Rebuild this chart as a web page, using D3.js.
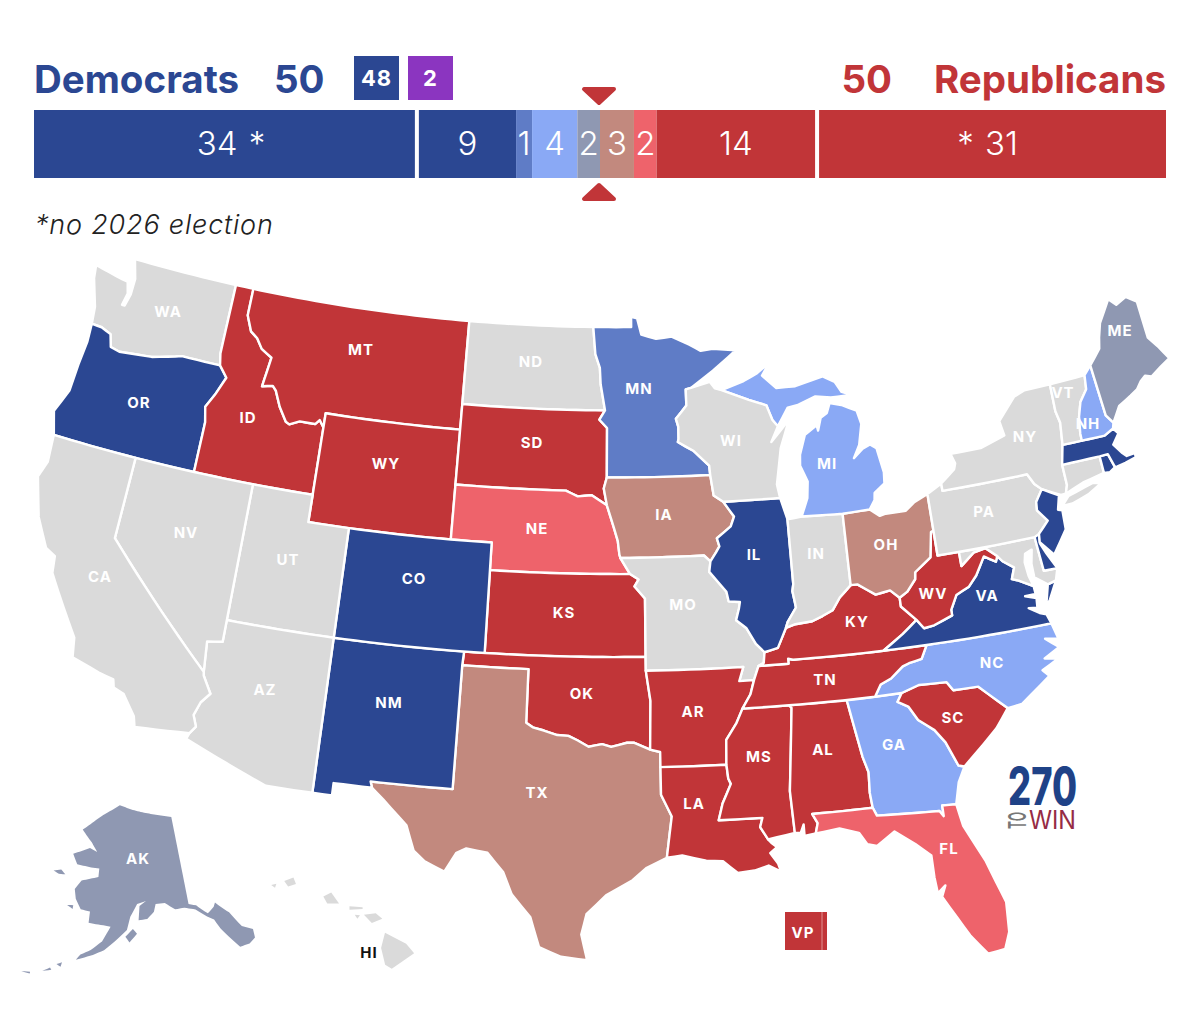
<!DOCTYPE html>
<html>
<head>
<meta charset="utf-8">
<script src="https://cdn.jsdelivr.net/npm/d3@7"></script>
<style>
  body { margin: 0; background: #fff; }
  svg { display: block; font-family: Inter, Roboto, sans-serif; }
  .state { stroke: #fff; stroke-width: 2.4; stroke-linejoin: round; }
  .state-label { font-size: 15px; font-weight: 700; letter-spacing: 1px; fill: #fff; text-anchor: middle; dominant-baseline: central; }
</style>
</head>
<body>
<svg id="chart" width="1200" height="1021"></svg>
<script>
// seats per forecast column, left to right
const seatCategories = ['safeD', 'safeD26', 'likelyD', 'leanD', 'tossup', 'leanR', 'likelyR', 'safeR26', 'safeR'];
const seatValues = [34, 9, 1, 4, 2, 3, 2, 14, 31];
const seatLabels = ['34 *', '9', '1', '4', '2', '3', '2', '14', '* 31'];
const seatColors = ['#2b4792', '#2b4792', '#5f7cc6', '#8aa9f5', '#8f98b2', '#c2897e', '#ee636b', '#c13538', '#c13538'];
const headerCounts = { dem: 50, rep: 50, demCaucus: 48, independents: 2 };

// 2026 rating for each state that votes
const ratingStates = {
  safeD26: ['OR', 'CO', 'NM', 'IL', 'VA', 'NJ', 'MA', 'RI', 'DE'],
  likelyD: ['MN'],
  leanD: ['NH', 'MI', 'GA', 'NC'],
  tossup: ['ME', 'AK'],
  leanR: ['TX', 'OH', 'IA'],
  likelyR: ['NE', 'FL'],
  safeR26: ['MT', 'ID', 'WY', 'SD', 'KS', 'OK', 'AR', 'LA', 'MS', 'AL', 'TN', 'KY', 'WV', 'SC']
};

// shared borders, lon/lat
const stCroix = [[-92.01,46.71],[-92.29,46.66],[-92.29,46.07],[-92.86,45.6],[-92.75,45.3],[-92.76,44.86],[-92.8,44.75]];
const missUpperA = [[-92.8,44.75],[-92.0,44.4],[-91.25,43.85],[-91.22,43.5]];
const missUpperB = [[-91.22,43.5],[-91.1,42.75],[-90.64,42.51]];
const missUpperC = [[-90.64,42.51],[-90.15,41.95],[-90.34,41.6],[-91.05,41.2],[-90.95,40.9],[-91.12,40.7],[-91.42,40.38]];
const missMid = [[-91.42,40.38],[-91.5,40.0],[-90.73,39.25],[-90.65,38.9],[-90.12,38.85],[-90.18,38.63],[-90.35,38.2],[-89.9,37.9],[-89.5,37.3],[-89.13,36.98]];
const missBoot = [[-89.13,36.98],[-89.2,36.6],[-89.45,36.5]];
const missBoot2 = [[-89.45,36.5],[-89.7,36.0]];
const missArk = [[-89.7,36.0],[-89.9,35.5],[-90.3,35.0]];
const missArk2 = [[-90.3,35.0],[-90.6,34.5],[-91.1,33.9],[-91.15,33.0]];
const missLa = [[-91.15,33.0],[-91.1,32.5],[-91.0,32.3],[-91.4,31.6],[-91.6,31.0]];
const ohioKyIl = [[-89.13,36.98],[-88.5,37.1],[-88.05,37.8]];
const ohioKyIn = [[-88.05,37.8],[-87.6,37.9],[-86.8,37.95],[-86.3,38.1],[-85.8,38.27],[-85.4,38.7],[-84.82,39.1]];
const ohioKyOh = [[-84.82,39.1],[-84.5,39.1],[-83.7,38.65],[-83.0,38.73],[-82.6,38.42]];
const ohioWv = [[-82.6,38.42],[-82.2,38.6],[-81.75,39.0],[-81.7,39.25],[-80.87,39.7],[-80.65,40.6]];
const wabash = [[-87.53,39.35],[-87.6,39.1],[-87.5,38.5],[-87.95,38.0],[-88.05,37.8]];
const kyWv = [[-82.6,38.42],[-82.6,38.1],[-81.97,37.54]];
const kyVa = [[-81.97,37.54],[-82.7,37.1],[-83.68,36.6]];
const wvVa = [[-81.97,37.54],[-81.68,37.2],[-81.2,37.25],[-80.3,37.5],[-80.3,37.7],[-79.95,38.2],[-79.3,38.42],[-78.87,38.77],[-78.35,39.4],[-77.83,39.13],[-77.72,39.32]];
const wvMd = [[-77.72,39.32],[-78.2,39.68],[-78.8,39.6],[-79.48,39.2],[-79.48,39.72]];
const potomac = [[-77.72,39.32],[-77.52,39.1],[-77.04,38.8],[-77.25,38.4],[-76.95,38.3],[-76.32,38.0]];
const tnNc = [[-84.32,34.99],[-84.0,35.4],[-83.5,35.57],[-82.9,35.95],[-82.6,36.03],[-82.0,36.12],[-81.68,36.59]];
const ncSc = [[-78.55,33.85],[-79.67,34.8],[-80.8,34.82],[-81.04,35.15],[-82.3,35.2],[-83.11,35.0]];
const gaSc = [[-83.11,35.0],[-83.35,34.7],[-82.9,34.48],[-82.55,33.95],[-81.9,33.5],[-81.5,33.0],[-81.1,32.1],[-80.85,32.03]];
const gaAl = [[-85.6,34.98],[-85.18,32.87],[-85.0,32.3],[-85.05,31.55],[-85.0,31.0]];
const gaFl = [[-85.0,31.0],[-84.86,30.7],[-82.2,30.57],[-82.05,30.36],[-82.05,30.75],[-81.45,30.72]];
const pearl = [[-91.6,31.0],[-89.73,31.0],[-89.85,30.67],[-89.55,30.2]];
const msAl = [[-88.2,35.0],[-88.1,34.9],[-88.47,31.9],[-88.4,30.37]];
const redRiver = [[-100,34.56],[-99.7,34.4],[-99.2,34.3],[-98.6,34.15],[-98.1,34.13],[-97.7,33.98],[-97.2,33.75],[-96.6,33.85],[-96.2,33.75],[-95.5,33.9],[-95.2,33.9],[-94.48,33.64]];
const sabine = [[-94.04,33.0],[-94.04,32.0],[-93.6,31.2],[-93.72,30.5],[-93.85,29.7]];
const missouriNeIa = [[-96.44,42.49],[-96.1,41.7],[-95.9,41.2],[-95.82,40.7],[-95.77,40.58]];
const missouriNeMo = [[-95.77,40.58],[-95.31,40.0]];
const missouriKs = [[-95.31,40.0],[-94.9,39.8],[-95.1,39.55],[-94.61,39.11]];
const neSd = [[-104.05,43.0],[-98.5,43.0],[-97.9,42.8],[-97.2,42.85],[-96.44,42.49]];
const mnSd = [[-96.56,45.94],[-96.85,45.6],[-96.45,45.3],[-96.45,43.5]];
const mnNd = [[-97.23,49],[-97.1,48.0],[-96.85,47.5],[-96.8,46.9],[-96.56,45.94]];
const idMt = [[-116.05,49],[-116.05,48.0],[-115.7,47.45],[-115.3,47.25],[-114.95,46.9],[-114.35,46.65],[-114.45,46.1],[-114.55,45.56],[-114.0,45.65],[-113.8,45.5],[-113.45,44.95],[-113.0,44.45],[-112.8,44.38],[-112.3,44.55],[-111.5,44.55],[-111.3,44.72],[-111.05,44.48]];
const orId = [[-116.92,45.99],[-116.46,45.6],[-116.85,44.9],[-117.2,44.4],[-117.03,43.85],[-117.03,42.0]];
const columbia = [[-124.0,46.27],[-123.45,46.25],[-122.9,46.1],[-122.7,45.65],[-122.2,45.57],[-121.2,45.65],[-120.5,45.7],[-119.3,45.93],[-118.98,46.0],[-116.92,45.99]];
const coloradoAz = [[-114.75,36.1],[-114.63,35.0]];
const coloradoCa = [[-114.63,35.0],[-114.6,34.87],[-114.15,34.27],[-114.5,33.9],[-114.7,33.4],[-114.5,33.0],[-114.72,32.72]];
const delawareNy = [[-75.5,42.0],[-75.25,41.6],[-74.95,41.36]];
const delawareNj = [[-74.95,41.36],[-75.35,40.95],[-75.4,40.65],[-75.0,40.2],[-75.55,39.8]];
const ctNy = [[-73.7,42.05],[-73.7,41.3],[-73.85,41.0]];
const nhVt = [[-71.5,45.01],[-71.6,44.5],[-72.05,44.1],[-72.3,43.6],[-72.45,43.0],[-72.46,42.73]];
const rev = a => a.slice().reverse();

// state outlines, one list of rings per state
const stateShapes = {
  WA: [[[-124.7,48.38],[-123.1,48.15],[-122.8,48.12],[-122.62,47.7],[-122.75,47.25],[-122.6,47.25],[-122.45,47.7],[-122.45,48.3],[-122.76,49.0],[-117.03,49.0],[-117.04,46.42],...rev(columbia),[-124.1,46.9],[-124.6,47.9]]],
  OR: [[...columbia,...orId,[-124.2,42.0],[-124.55,42.84],[-124.1,43.7],[-124.05,44.7],[-123.95,45.6]]],
  ID: [[[-117.03,49],...idMt,[-111.05,42],[-117.03,42],...rev(orId),[-117.04,46.42]]],
  MT: [[...idMt,[-111.05,45],[-104.05,45],[-104.05,49]]],
  WY: [[[-111.05,45],[-104.05,45],[-104.05,41],[-111.05,41]]],
  ND: [[[-104.05,49],...mnNd,[-104.05,45.94]]],
  SD: [[[-104.05,45.94],...mnSd,[-96.6,43.1],[-96.44,42.49],...rev(neSd)]],
  NE: [[...neSd,...missouriNeIa,...missouriNeMo,[-102.05,40],[-102.05,41],[-104.05,41]]],
  KS: [[[-102.05,40],...missouriNeMo.slice(1),...missouriKs.slice(1),[-94.62,37],[-102.05,37]]],
  OK: [[[-103,37],[-94.62,37],[-94.62,36.5],[-94.43,35.4],...rev(redRiver),[-100,36.5],[-103.04,36.5]]],
  TX: [[[-103.04,36.5],[-100,36.5],...redRiver,[-94.04,33.55],...sabine,[-94.7,29.35],[-95.3,28.9],[-96.4,28.35],[-97.2,27.65],[-97.4,26.9],[-97.15,25.96],[-98.2,26.07],[-99.1,26.4],[-99.5,27.5],[-100.3,28.3],[-100.7,29.1],[-101.4,29.77],[-102.3,29.88],[-102.7,29.7],[-103.15,28.98],[-104,29.3],[-104.5,29.65],[-104.9,30.55],[-106,31.4],[-106.53,31.78],[-106.62,32],[-103.06,32]]],
  NM: [[[-109.05,37],[-103,37],[-103.04,36.5],[-103.06,32],[-106.62,32],[-106.53,31.78],[-108.2,31.78],[-108.2,31.33],[-109.05,31.33]]],
  CO: [[[-109.05,41],[-102.05,41],[-102.05,37],[-109.05,37]]],
  UT: [[[-114.05,42],[-111.05,42],[-111.05,41],[-109.05,41],[-109.05,37],[-114.05,37]]],
  AZ: [[[-114.05,37],[-109.05,37],[-109.05,31.33],[-111.07,31.33],[-114.81,32.5],...rev(coloradoCa),...rev(coloradoAz),[-114.05,36.2]]],
  NV: [[[-120,42],[-114.05,42],[-114.05,36.2],...coloradoAz,[-120,39]]],
  CA: [[[-124.2,42],[-120,42],[-120,39],...coloradoCa,[-117.12,32.53],[-117.25,32.9],[-117.9,33.6],[-118.4,33.75],[-118.5,34.03],[-119.2,34.15],[-120.5,34.45],[-120.65,35.15],[-121.9,36.6],[-122.4,37.2],[-122.5,37.8],[-123,38],[-123.75,39],[-124.35,40.4],[-124.1,41]]],
  MN: [[[-97.23,49],[-95.15,49],[-95.15,49.38],[-94.82,49.32],[-94.6,48.72],[-93.8,48.55],[-92.95,48.62],[-92,48.3],[-91.4,48.05],[-90.75,48.1],[-89.5,48],[-90.8,47.3],...stCroix,...missUpperA,...rev(mnSd),...rev(mnNd).slice(1)]],
  IA: [[[-96.45,43.5],...missUpperB,...missUpperC,[-91.72,40.6],...rev(missouriNeIa),[-96.6,43.1]]],
  MO: [[[-95.77,40.58],[-91.72,40.6],...missMid,...missBoot,...missBoot2,[-90.37,36],[-90.15,36.5],[-94.62,36.5],[-94.62,37],...rev(missouriKs),[-95.31,40]]],
  AR: [[[-94.62,36.5],[-90.15,36.5],[-90.37,36],...missArk,...missArk2,[-94.04,33],[-94.04,33.55],[-94.48,33.64],[-94.43,35.4]]],
  LA: [[[-94.04,33],...missLa,...pearl.slice(1),[-89.4,30.05],[-89.2,29.9],[-89.5,29.7],[-89.2,29.3],[-89.1,29],[-89.6,29.25],[-90.2,29.1],[-90.9,29.05],[-91.5,29.5],[-92.2,29.55],[-93.2,29.77],...rev(sabine)]],
  MS: [[[-90.3,35],...msAl,[-89.55,30.2],...rev(pearl),...rev(missLa).slice(1),...rev(missArk2).slice(1)]],
  AL: [[...msAl.slice(0,1),[-85.6,34.98],...gaAl.slice(1),[-87.6,31],[-87.4,30.65],[-87.52,30.28],[-88,30.23],[-88,30.65],[-88.15,30.35],...rev(msAl)]],
  GA: [[...gaAl,...gaFl.slice(1),[-81.2,31.5],...rev(gaSc)]],
  FL: [[[-87.6,31],...gaFl,[-81.3,29.9],[-80.6,28.5],[-80.05,26.9],[-80.13,25.8],[-80.4,25.2],[-81.1,25.13],[-81.7,25.9],[-82.1,26.6],[-82.6,27.45],[-82.4,27.85],[-82.75,27.6],[-82.8,28.2],[-82.8,29],[-83.4,29.5],[-84.2,30.05],[-85,29.6],[-85.4,29.7],[-85.7,30.15],[-86.5,30.38],[-87.52,30.28],[-87.4,30.65]],
       [[-81.8,24.55],[-81.3,24.65],[-80.6,24.95],[-81.3,24.72]]],
  SC: [[...rev(ncSc),[-79.2,33.2],[-79.9,32.7],...rev(gaSc)]],
  NC: [[...tnNc,[-75.87,36.55],[-75.7,35.95],[-76.3,36.05],[-75.75,35.65],[-76.5,35.35],[-75.9,35.25],[-76.7,34.95],[-76.45,34.7],[-77.9,33.9],...ncSc]],
  TN: [[...rev(missArk),...missBoot2.slice(0,1),[-88.07,36.5],[-88.07,36.68],[-87.85,36.63],[-83.68,36.6],...rev(tnNc),[-88.2,35]]],
  KY: [[...ohioKyIl,...ohioKyIn.slice(1),...ohioKyOh.slice(1),...kyWv.slice(1),...kyVa.slice(1),[-87.85,36.63],[-88.07,36.68],[-88.07,36.5],...rev(missBoot)]],
  VA: [[...kyVa,[-81.68,36.59],[-75.87,36.55],[-76,36.9],[-76.3,37],[-76.75,37.25],[-76.35,37.2],[-76.3,37.55],[-76.8,37.7],[-76.3,37.7],...rev(potomac),...rev(wvVa).slice(1)],
       [[-75.24,38.03],[-75.65,37.95],[-75.95,37.15],[-75.7,37.4]]],
  WV: [[...ohioWv,[-80.52,40.64],[-80.52,39.72],...rev(wvMd),...rev(wvVa).slice(1),...rev(kyWv).slice(1)]],
  MD: [[[-79.48,39.72],[-75.79,39.72],[-75.7,38.46],[-75.05,38.45],[-75.24,38.03],[-75.65,37.95],[-76.2,38.3],[-76.2,38.8],[-76.05,39.3],[-76.4,39.2],[-76.5,38.9],[-76.45,38.4],...rev(potomac),...wvMd.slice(1)]],
  DE: [[[-75.79,39.72],[-75.55,39.8],[-75.6,39.45],[-75.4,39.05],[-75.05,38.45],[-75.7,38.46]]],
  IL: [[[-90.64,42.51],[-87.8,42.5],[-87.53,41.7],...wabash,...rev(ohioKyIl).slice(1),...rev(missMid),...rev(missUpperC).slice(1)]],
  IN: [[[-87.53,41.7],[-86.82,41.76],[-84.8,41.7],...rev(ohioKyIn),...rev(wabash)]],
  OH: [[[-84.8,41.7],[-83.45,41.73],[-83,41.45],[-82.7,41.5],[-81.7,41.5],[-81.25,41.75],[-80.52,41.98],[-80.52,40.64],...rev(ohioWv),...rev(ohioKyOh).slice(1)]],
  MI: [[[-86.82,41.76],[-84.8,41.7],[-83.45,41.73],[-83.15,42.05],[-83.1,42.3],[-82.55,42.6],[-82.5,43],[-82.7,43.9],[-83,44.07],[-83.4,43.95],[-83.9,43.65],[-83.55,44.1],[-83.3,44.85],[-83.45,45.35],[-84.2,45.63],[-84.8,45.75],[-85,45.4],[-85.35,45.25],[-85.55,44.8],[-85.6,45],[-86.25,44.7],[-86.6,44],[-86.65,43.6],[-86.35,43],[-86.45,42.4]],
       [[-90.4,46.57],[-89.2,46.85],[-88.45,47.1],[-87.75,47.45],[-88.2,47],[-87.5,46.5],[-86.5,46.5],[-85,46.75],[-84.4,46.5],[-84.1,46.1],[-83.6,45.95],[-84.7,45.95],[-85.5,46.05],[-86.5,45.8],[-87,45.75],[-87.6,45.1],[-87.85,45.35],[-88.1,45.9],[-89,46.15]],
       [[-89.2,47.85],[-88.5,48.15],[-88.6,48]]],
  WI: [[[-92.01,46.71],[-91,46.9],[-90.75,46.65],[-90.4,46.57],[-89,46.15],[-88.1,45.9],[-87.85,45.35],[-87.6,45.1],[-88,44.55],[-87,45.3],[-87.55,44.3],[-87.9,43],[-87.8,42.5],...rev(missUpperB),...rev(missUpperA).slice(1),...rev(stCroix).slice(1)]],
  PA: [[[-80.52,41.98],[-79.76,42.27],[-79.76,42],...delawareNy,...delawareNj.slice(1),[-75.79,39.72],[-80.52,39.72]]],
  NY: [[[-79.76,42.27],[-79,42.7],[-78.9,42.9],[-79.05,43.27],[-77.5,43.27],[-76.2,43.55],[-76.3,44.1],[-75.3,44.85],[-74.7,45],[-73.35,45],[-73.4,44],[-73.3,43.55],[-73.45,42.75],...ctNy,[-74.1,41],[-74.95,41.36],...rev(delawareNy),[-79.76,42]],
       [[-74.15,40.6],[-73.75,40.9],[-72.45,41.15],[-72.05,41.07],[-72.75,40.8],[-73.65,40.6]]],
  NJ: [[[-74.95,41.36],[-74.2,41],[-74.4,40.5],[-74.2,40.45],[-74.25,39.75],[-75.05,38.95],[-75.6,39.5],...rev(delawareNj).slice(0,-1)]],
  CT: [[...ctNy,[-72.9,41.25],[-71.8,41.4],[-71.8,42.02]]],
  RI: [[[-71.8,42.02],[-71.38,42.02],[-71.2,41.5],[-71.5,41.37],[-71.8,41.4]]],
  MA: [[[-73.7,42.05],[-73.45,42.75],[-72.46,42.73],[-71.3,42.7],[-70.8,42.87],[-70.6,42.65],[-71,42.3],[-70.7,41.95],[-70.5,41.78],[-70.1,41.8],[-70.3,42.07],[-70.05,41.85],[-70.1,41.65],[-70.65,41.55],[-71.1,41.5],[-71.2,41.5],[-71.38,42.02],[-71.8,42.02]],
       [[-70.82,41.35],[-70.5,41.45],[-70.5,41.35]],[[-70.25,41.3],[-70,41.3],[-70.05,41.22]]],
  VT: [[[-73.35,45],[-71.5,45.01],...nhVt.slice(1),[-73.45,42.75],[-73.3,43.55],[-73.4,44]]],
  NH: [[[-71.5,45.01],[-71.08,45.3],[-70.98,43.4],[-70.7,43.07],[-70.8,42.87],[-71.3,42.7],...rev(nhVt).slice(0,-1)]],
  ME: [[[-71.08,45.3],[-70.4,45.8],[-70.25,46.2],[-70,46.7],[-69.23,47.46],[-68.9,47.18],[-68.3,47.36],[-67.8,47.07],[-67.8,45.7],[-67.45,45.3],[-67.05,44.75],[-67.6,44.55],[-68.2,44.3],[-68.5,44.4],[-68.8,44.25],[-69.1,44],[-69.5,43.85],[-70.2,43.6],[-70.7,43.07],[-70.98,43.4]]]
};

const alaskaShape = [
  [[-141,69.65],[-141,60.3],[-139.5,60],[-137.5,58.9],[-136,59.4],[-135.5,59.8],[-134,58.8],[-133.3,58.4],[-131.8,56.6],[-130,55.9],[-130.2,55],[-131.5,54.6],[-133.3,54.6],[-134.8,56],[-135.8,57],[-136.6,58.1],[-137.8,58.6],[-139.8,59.6],[-142,60],[-144,60],[-146,60.8],[-148,60.8],[-148.5,60],[-150,59.3],[-151.8,59.2],[-151.5,60.7],[-150,61.2],[-152,60.9],[-153.5,59.6],[-154.2,58.2],[-156.5,57],[-158.5,56],[-160.5,55.4],[-163.5,54.7],[-162.8,55.3],[-161,55.9],[-159,56.9],[-157.5,58.5],[-159,58.6],[-162,58.7],[-162,59.9],[-164,60],[-165.4,61],[-166,62],[-164.8,63],[-161,63.6],[-161,64.5],[-163,64.5],[-166.5,64.6],[-168,65.6],[-164,66.5],[-162,66.2],[-163.7,67.1],[-166.8,68.3],[-163,69.7],[-161,70.3],[-156.6,71.35],[-152,70.8],[-148,70.4],[-144,70]],
  [[-154.5,57.5],[-153,58.3],[-152.2,57.8],[-153.7,56.9]],
  [[-171.7,63.4],[-170,63.7],[-168.8,63.3],[-170.3,63.2]],
  [[-167,60.2],[-165.7,60.3],[-165.7,59.9]],
  [[-166.8,53.9],[-165.9,54.2],[-166,53.7]],
  [[-169,52.9],[-167.8,53.4],[-167.5,53.2]],
  [[-172.5,52.3],[-171,52.5],[-171,52.3]]
];
const hawaiiShape = [
  [[-155.9,20.25],[-155.1,19.85],[-154.8,19.5],[-155.65,18.95],[-155.9,19.1],[-156.05,19.7]],
  [[-156.7,20.9],[-156.25,20.95],[-156,20.75],[-156.4,20.6]],
  [[-157.25,21.2],[-156.75,21.17],[-156.75,21.1],[-157.25,21.08]],
  [[-157.05,20.9],[-156.85,20.88],[-156.95,20.75]],
  [[-158.25,21.55],[-157.95,21.7],[-157.65,21.3],[-158.1,21.3]],
  [[-159.75,22.1],[-159.4,22.23],[-159.3,22],[-159.6,21.9]],
  [[-160.25,21.95],[-160.05,22],[-160.1,21.85]]
];

const labelPos = {
  WA:[168,311],OR:[139,402],CA:[100,576],NV:[186,532],ID:[248,417],MT:[361,349],WY:[386,463],UT:[288,559],AZ:[265,689],CO:[414,578],
  NM:[389,702],ND:[531,361],SD:[532,442],NE:[537,528],KS:[564,612],OK:[582,693],TX:[537,792],MN:[639,388],IA:[664,514],MO:[683,604],
  AR:[693,711],LA:[694,803],WI:[731,440],IL:[754,554],IN:[816,553],MI:[827,463],OH:[886,544],KY:[857,621],TN:[825,679],MS:[759,756],
  AL:[823,749],GA:[894,744],FL:[949,848],SC:[953,717],NC:[992,662],VA:[987,595],WV:[933,593],PA:[984,511],NY:[1025,436],VT:[1063,392],
  NH:[1088,423],ME:[1120,330],AK:[138,858]
};

const GREY = '#dadada';
const ratingColor = {};
Object.entries(ratingStates).forEach(([cat, list]) => {
  list.forEach(st => { ratingColor[st] = seatColors[seatCategories.indexOf(cat)]; });
});

const svg = d3.select('#chart');

// ---------- seat bar
const x = d3.scaleLinear().domain([0, d3.sum(seatValues)]).range([34, 1166]);
const cum = d3.cumsum(seatValues);
const segs = seatValues.map((v, i) => {
  let x0 = x(cum[i] - v), x1 = x(cum[i]);
  if (i === 0) x1 -= 4;       // white gap next to the no-election blocks
  if (i === seatValues.length - 1) x0 += 4;
  return { x0, x1, shift: i === 0 ? 6.5 : i === seatValues.length - 1 ? -5 : 0, label: seatLabels[i], color: seatColors[i] };
});
// single seat is widened to the left so the label fits
segs.forEach((s, i) => {
  if (s.x1 - s.x0 < 16) { s.x0 = s.x1 - 16; segs[i - 1].x1 = s.x0; }
});
const bar = svg.append('g').attr('class', 'bar');
bar.selectAll('rect').data(segs).enter().append('rect')
  .attr('x', d => d.x0).attr('y', 110).attr('width', d => d.x1 - d.x0).attr('height', 68)
  .attr('fill', d => d.color);
bar.selectAll('text').data(segs).enter().append('text')
  .attr('x', d => (d.x0 + d.x1) / 2 + d.shift).attr('y', 155)
  .attr('text-anchor', 'middle').attr('fill', '#fff')
  .style('font-size', '33px').style('font-weight', 300).style('word-spacing', '2px')
  .text(d => d.label);

// majority markers
const tri = d3.line().curve(d3.curveLinearClosed);
[[[584, 89], [614, 89], [599, 103]], [[584, 199], [614, 199], [599, 185]]].forEach(p => {
  svg.append('path').attr('d', tri(p)).attr('fill', '#c13538').attr('stroke', '#c13538')
    .attr('stroke-width', 4).attr('stroke-linejoin', 'round');
});

// ---------- header
const head = (tx, ty, t, color, anchor) => svg.append('text').attr('x', tx).attr('y', ty)
  .attr('fill', color).attr('text-anchor', anchor)
  .style('font-size', '38.5px').style('font-weight', 700).style('font-family', 'Inter').text(t);
head(34, 93, 'Democrats', '#2b4792', 'start');
head(274, 93, headerCounts.dem, '#2b4792', 'start');
head(892, 93, headerCounts.rep, '#c13538', 'end');
head(1166, 93, 'Republicans', '#c13538', 'end');

[[354, headerCounts.demCaucus, '#2b4792'], [408, headerCounts.independents, '#8b35c0']].forEach(([bx, t, c]) => {
  svg.append('rect').attr('x', bx).attr('y', 56).attr('width', 45).attr('height', 44).attr('fill', c);
  svg.append('text').attr('x', bx + 22.5).attr('y', 86).attr('text-anchor', 'middle').attr('fill', '#fff')
    .style('font-size', '22px').style('font-weight', 700).style('letter-spacing', '1px').text(t);
});

svg.append('text').attr('x', 35).attr('y', 234).attr('fill', '#222')
  .style('font-size', '27px').style('font-style', 'italic').style('font-weight', 300)
  .style('letter-spacing', '0.8px').text('*no 2026 election');

// ---------- map
const dense = ring => {
  const out = [];
  ring.forEach((p, i) => {
    const q = ring[(i + 1) % ring.length];
    const n = Math.ceil(Math.max(Math.abs(q[0] - p[0]), Math.abs(q[1] - p[1])) / 0.5) || 1;
    d3.range(n).forEach(k => out.push([p[0] + (q[0] - p[0]) * k / n, p[1] + (q[1] - p[1]) * k / n]));
  });
  out.push(out[0]);
  return out;
};
// d3 wants clockwise rings, the outlines above are not consistent about it
const toFeature = rings => ({
  type: 'MultiPolygon',
  coordinates: rings.map(r => {
    const ring = dense(r);
    return d3.geoArea({ type: 'Polygon', coordinates: [ring] }) > 2 * Math.PI ? [ring.reverse()] : [ring];
  })
});

const lower48 = d3.geoAlbers().scale(1570).translate([603, 610]);
const akProj = d3.geoConicEqualArea().rotate([154, 0]).center([-2, 58.5]).parallels([55, 65]).scale(545).translate([118, 927]);
const hiProj = d3.geoConicEqualArea().rotate([157, 0]).center([-3, 19.9]).parallels([8, 18]).scale(1600).translate([277, 942]);
const path = d3.geoPath(lower48);

const map = svg.append('g').attr('class', 'map');
map.selectAll('path').data(Object.keys(stateShapes)).enter().append('path')
  .attr('class', 'state')
  .attr('fill', d => ratingColor[d] || GREY)
  .attr('d', d => path(toFeature(stateShapes[d])));

map.append('path').attr('fill', ratingColor.AK).attr('d', d3.geoPath(akProj)(toFeature(alaskaShape)));
map.append('path').attr('fill', GREY).attr('d', d3.geoPath(hiProj)(toFeature(hawaiiShape)));

map.selectAll('text.state-label').data(Object.keys(labelPos)).enter().append('text')
  .attr('class', 'state-label')
  .attr('x', d => labelPos[d][0]).attr('y', d => labelPos[d][1])
  .text(d => d);
map.append('text').attr('class', 'state-label').attr('x', 369).attr('y', 952).style('fill', '#111').text('HI');

// VP tie-break box
svg.append('rect').attr('x', 785).attr('y', 912).attr('width', 42).attr('height', 38).attr('fill', '#c13538');
svg.append('line').attr('x1', 822).attr('x2', 822).attr('y1', 912).attr('y2', 950).attr('stroke', '#e8a9aa').attr('stroke-width', 0.8);
svg.append('text').attr('class', 'state-label').attr('x', 803).attr('y', 932).text('VP');

// ---------- logo
const logo = svg.append('g').attr('class', 'logo').style('font-family', 'Inter');
logo.append('text').attr('x', 1008).attr('y', 805).attr('textLength', 69).attr('lengthAdjust', 'spacingAndGlyphs')
  .attr('fill', '#1f4287').style('font-size', '52px').style('font-weight', 800).text('270');
logo.append('text').attr('x', 1029).attr('y', 829).attr('textLength', 47).attr('lengthAdjust', 'spacingAndGlyphs')
  .attr('fill', '#962b45').style('font-size', '25px').text('WIN');
logo.append('text').attr('transform', 'translate(1026,829) rotate(-90)').attr('textLength', 17).attr('lengthAdjust', 'spacingAndGlyphs')
  .attr('fill', '#777').style('font-size', '24px').style('font-weight', 600).text('TO');
</script>
</body>
</html>
